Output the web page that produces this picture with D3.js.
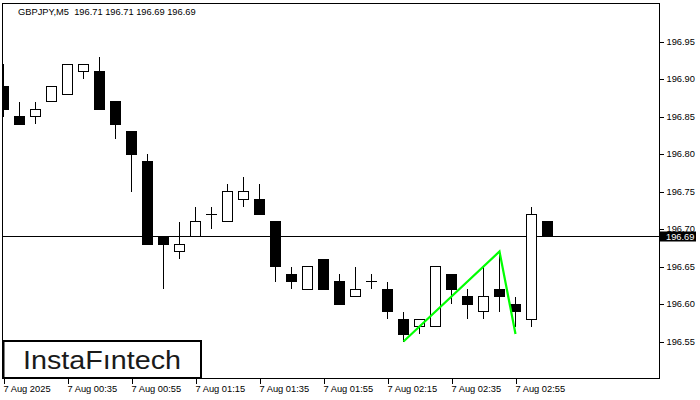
<!DOCTYPE html>
<html>
<head>
<meta charset="utf-8">
<script src="https://cdn.jsdelivr.net/npm/d3@7/dist/d3.min.js"></script>
<style>
  html, body { margin: 0; padding: 0; background: #fff; }
  svg { display: block; }
  text { font-family: "Liberation Sans", Arial, sans-serif; }
</style>
</head>
<body>
<svg id="chart" width="700" height="400"></svg>
<script>
// ---- Data (GBPJPY, M5) ----
const symbolTitle = "GBPJPY,M5  196.71 196.71 196.69 196.69";
const openVals  = [196.89,196.85,196.85,196.87,196.88,196.91,196.91,196.87,196.83,196.79,196.69,196.67,196.69,196.72,196.71,196.74,196.74,196.71,196.64,196.62,196.66,196.63,196.61,196.63,196.62,196.58,196.57,196.57,196.64,196.61,196.59,196.62,196.60,196.58,196.71];
const highVals  = [196.92,196.87,196.87,196.89,196.92,196.92,196.93,196.87,196.83,196.80,196.69,196.71,196.73,196.73,196.76,196.77,196.76,196.71,196.65,196.65,196.66,196.64,196.65,196.64,196.63,196.59,196.58,196.65,196.64,196.62,196.65,196.67,196.61,196.73,196.71];
const lowVals   = [196.85,196.84,196.84,196.87,196.88,196.90,196.86,196.82,196.75,196.68,196.62,196.66,196.69,196.70,196.71,196.73,196.72,196.63,196.62,196.62,196.62,196.60,196.61,196.62,196.58,196.55,196.56,196.57,196.60,196.58,196.58,196.59,196.57,196.57,196.69];
const closeVals = [196.86,196.84,196.86,196.89,196.92,196.92,196.86,196.84,196.80,196.68,196.68,196.68,196.71,196.72,196.75,196.75,196.72,196.65,196.63,196.65,196.62,196.60,196.62,196.63,196.59,196.56,196.58,196.65,196.62,196.60,196.61,196.61,196.59,196.72,196.69];
const timeTickIndex  = [0,4,8,12,16,20,24,28,32];
const timeTickLabels = ["7 Aug 2025","7 Aug 00:35","7 Aug 00:55","7 Aug 01:15","7 Aug 01:35","7 Aug 01:55","7 Aug 02:15","7 Aug 02:35","7 Aug 02:55"];
const priceTicks = [196.55,196.60,196.65,196.70,196.75,196.80,196.85,196.90,196.95];
const currentPrice = 196.69;
// pattern line (bar index, price)
const patternIdx    = [25, 31, 32];
const patternPrices = [196.55, 196.67, 196.56];

// ---- Layout ----
const svg = d3.select("#chart");
const L = 2.5, R = 659.5, T = 3.5, B = 378.5;

const x = d3.scaleLinear().domain([0, 34]).range([3.5, 3.5 + 16 * 34]);
const y = d3.scaleLinear().domain([196.50, 197.00]).range([379, 4]);

svg.append("defs").append("clipPath").attr("id", "plotclip")
  .append("rect").attr("x", L + 0.5).attr("y", T + 0.5).attr("width", R - L - 1).attr("height", B - T - 1);

const plot = svg.append("g").attr("clip-path", "url(#plotclip)");

const bars = openVals.map((o, i) => ({ i, o, h: highVals[i], l: lowVals[i], c: closeVals[i] }));

// current price line
plot.append("line")
  .attr("x1", L).attr("x2", R)
  .attr("y1", y(currentPrice)).attr("y2", y(currentPrice))
  .attr("stroke", "#000").attr("stroke-width", 1).attr("shape-rendering", "crispEdges");

// wicks
plot.selectAll("line.wick").data(bars).enter().append("line")
  .attr("class", "wick")
  .attr("x1", d => x(d.i)).attr("x2", d => x(d.i))
  .attr("y1", d => y(d.h)).attr("y2", d => y(d.l))
  .attr("stroke", "#000").attr("stroke-width", 1).attr("shape-rendering", "crispEdges");

// bodies
plot.selectAll("rect.body").data(bars.filter(d => d.o !== d.c)).enter().append("rect")
  .attr("class", "body")
  .attr("x", d => d.c > d.o ? x(d.i) - 5 : x(d.i) - 5.5)
  .attr("width", d => d.c > d.o ? 10 : 11)
  .attr("y", d => d.c > d.o ? y(d.c) : y(d.o) - 0.5)
  .attr("height", d => d.c > d.o ? y(d.o) - y(d.c) : y(d.c) - y(d.o) + 1)
  .attr("fill", d => d.c > d.o ? "#fff" : "#000")
  .attr("stroke", d => d.c > d.o ? "#000" : "none")
  .attr("stroke-width", 1)
  .attr("shape-rendering", "crispEdges");

// doji
plot.selectAll("line.doji").data(bars.filter(d => d.o === d.c)).enter().append("line")
  .attr("class", "doji")
  .attr("x1", d => x(d.i) - 5.5).attr("x2", d => x(d.i) + 5.5)
  .attr("y1", d => y(d.o)).attr("y2", d => y(d.o))
  .attr("stroke", "#000").attr("stroke-width", 1).attr("shape-rendering", "crispEdges");

// pattern line
const pts = patternIdx.map((k, j) => [x(k), y(patternPrices[j])]);
plot.append("path")
  .attr("d", d3.line()(pts))
  .attr("fill", "none").attr("stroke", "#00ff00").attr("stroke-width", 2.2)
  .attr("stroke-linejoin", "miter");

// frame
svg.append("rect")
  .attr("x", L).attr("y", T).attr("width", R - L).attr("height", B - T)
  .attr("fill", "none").attr("stroke", "#000").attr("stroke-width", 1)
  .attr("shape-rendering", "crispEdges");

// y axis (right)
const yAxis = d3.axisRight(y).tickValues(priceTicks).tickSize(4).tickPadding(3).tickFormat(d3.format(".2f"));
const yg = svg.append("g").attr("transform", `translate(${R},0)`).call(yAxis);
yg.select(".domain").remove();
yg.selectAll("line").attr("stroke", "#000").attr("shape-rendering", "crispEdges");
yg.selectAll("text").attr("font-size", "9.3px").attr("fill", "#000")
  .attr("font-family", "'Liberation Sans', Arial, sans-serif");

// current price label
const cpY = y(currentPrice);
svg.append("rect").attr("x", 660).attr("y", cpY - 5).attr("width", 36).attr("height", 10).attr("fill", "#000");
svg.append("text").attr("x", 666).attr("y", cpY).attr("dy", "0.34em")
  .attr("font-size", "9.3px").attr("fill", "#fff").text(d3.format(".2f")(currentPrice));

// x axis
const xAxis = d3.axisBottom(x).tickValues(timeTickIndex).tickSize(5).tickPadding(2)
  .tickFormat((d) => timeTickLabels[timeTickIndex.indexOf(d)]);
const xg = svg.append("g").attr("transform", `translate(0,${B})`).call(xAxis);
xg.select(".domain").remove();
xg.selectAll("line").attr("stroke", "#000").attr("shape-rendering", "crispEdges");
xg.selectAll("text").attr("font-size", "9.3px").attr("fill", "#000")
  .attr("text-anchor", "start").attr("dx", "-0.5")
  .attr("font-family", "'Liberation Sans', Arial, sans-serif");

// title
svg.append("text").attr("x", 18).attr("y", 14.5)
  .style("white-space", "pre")
  .attr("font-size", "9.3px").attr("fill", "#000").text(symbolTitle);

// logo
svg.append("rect").attr("x", 3.5).attr("y", 341).attr("width", 197.5).attr("height", 37)
  .attr("fill", "#fff").attr("stroke", "#000").attr("stroke-width", 2);
svg.append("text").attr("x", 23).attr("y", 369)
  .attr("font-family", "Inter, 'Open Sans', sans-serif").attr("font-weight", 500)
  .attr("font-size", "26px").attr("fill", "#1a1a1a")
  .attr("textLength", 158).attr("lengthAdjust", "spacingAndGlyphs")
  .text("InstaFıntech");
</script>
</body>
</html>
